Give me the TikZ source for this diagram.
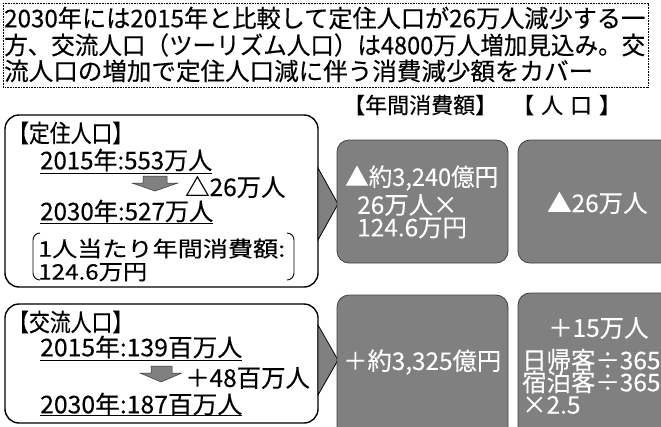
\documentclass[tikz,border=0pt]{standalone}
\usepackage{fontspec}
\setmainfont{Noto Sans CJK JP}[FakeBold=0.3]
\definecolor{boxgray}{RGB}{128,128,128}
\newsavebox\fitbox
\newcommand\fitw[2]{\sbox\fitbox{#2}\pgfmathsetmacro\fitr{#1/(\the\wd\fitbox)}\scalebox{\fitr}[1]{\usebox\fitbox}}
\begin{document}
\begin{tikzpicture}[x=1bp,y=-1bp,
  txt/.style={inner sep=0pt, anchor=west, font=\fontsize{24.5}{28}\selectfont},
  head/.style={inner sep=0pt, anchor=west, font=\fontsize{22}{26}\selectfont},
  wtxt/.style={txt, text=white},
  leftbox/.style={draw=black, line width=1.4pt, rounded corners=14bp},
  graybox/.style={fill=boxgray, draw=black!75, line width=0.8pt, rounded corners=12bp},
  chev/.style={fill=boxgray, draw=black, line width=0.8pt},
  darrow/.style={fill=boxgray, draw=black!80, line width=0.5pt},
  uline/.style={line width=1pt},
  brk/.style={line width=0.9pt}]
\useasboundingbox (0,0) rectangle (661,426);
% top box
\draw[line width=0.6pt, dash pattern=on 1pt off 0.6pt] (3,3) rectangle (648,87);
\node[txt] (t1) at (4,18) {\fitw{641bp}{2030年には2015年と比較して定住人口が26万人減少する一}};
\node[txt] (t2) at (4,45) {\fitw{641bp}{方、交流人口（ツーリズム人口）は4800万人増加見込み。交}};
\node[txt] (t3) at (4,71) {\fitw{589bp}{流人口の増加で定住人口減に伴う消費減少額をカバー}};
% headings
\node[head] (h1) at (343,105) {\fitw{154bp}{【年間消費額】}};
\node[head] (h2) at (512,105) {【\hspace{7bp}人\hspace{7bp}口\hspace{7bp}】};
% left box 1
\draw[leftbox] (5,115) rectangle (318,287);
\node[txt] (k1) at (8,133) {\fitw{125bp}{【定住人口】}};
\node[txt] (a1) at (40,160) {\fitw{172bp}{2015年:553万人}};
\draw[uline] (a1.west |- 0,173) -- (a1.east |- 0,173);
\draw[darrow] (143,176) -- (167,176) -- (167,183) -- (178,183) -- (155,191) -- (132,183) -- (143,183) -- cycle;
\node[txt] (d1) at (185,187) {△26万人};
\node[txt] (b1) at (40,211) {\fitw{173bp}{2030年:527万人}};
\draw[uline] (b1.west |- 0,223) -- (b1.east |- 0,223);
\draw[brk] (40,233) to[out=180,in=90] (33,240) -- (33,273) to[out=-90,in=180] (40,280);
\draw[brk] (287,233) to[out=0,in=90] (294,240) -- (294,273) to[out=-90,in=0] (287,280);
\node[txt, align=left, font=\fontsize{21.5}{23}\selectfont] (p1) at (38,260) {\fitw{247bp}{1人当たり年間消費額:}\\\fitw{109bp}{124.6万円}};
% left box 2
\draw[leftbox] (5,304) rectangle (318,423);
\node[txt] (k2) at (8,322) {\fitw{125bp}{【交流人口】}};
\node[txt] (a2) at (40,347) {\fitw{202bp}{2015年:139百万人}};
\draw[uline] (a2.west |- 0,360) -- (a2.east |- 0,360);
\draw[darrow] (151,366) -- (172,366) -- (172,373) -- (182,373) -- (161,382) -- (140,373) -- (151,373) -- cycle;
\node[txt] (d2) at (185,378) {＋48百万人};
\node[txt] (b2) at (40,404) {\fitw{202bp}{2030年:187百万人}};
\draw[uline] (b2.west |- 0,415) -- (b2.east |- 0,415);
% chevrons
\draw[chev] (318,168) -- (338,204) -- (318,240) -- cycle;
\draw[chev] (318,325) -- (338,360) -- (318,395) -- cycle;
% gray boxes
\draw[graybox] (337,140) rectangle (508,263);
\draw[graybox] (518,140) rectangle (690,263);
\draw[graybox] (337,295) rectangle (508,450);
\draw[graybox] (518,293) rectangle (690,450);
\node[wtxt] (g1) at (345,178) {\fitw{153bp}{▲約3,240億円}};
\node[wtxt] (g2) at (357,205) {26万人×};
\node[wtxt] (g3) at (357,228) {124.6万円};
\node[wtxt] (g4) at (547,203) {▲26万人};
\node[wtxt] (g5) at (343,362) {\fitw{158bp}{＋約3,325億円}};
\node[wtxt] (g6) at (548,328) {＋15万人};
\node[wtxt] (g7) at (522,360) {日帰客÷365};
\node[wtxt] (g8) at (522,382) {宿泊客÷365};
\node[wtxt] (g9) at (522,405) {×2.5};
\end{tikzpicture}
\end{document}
